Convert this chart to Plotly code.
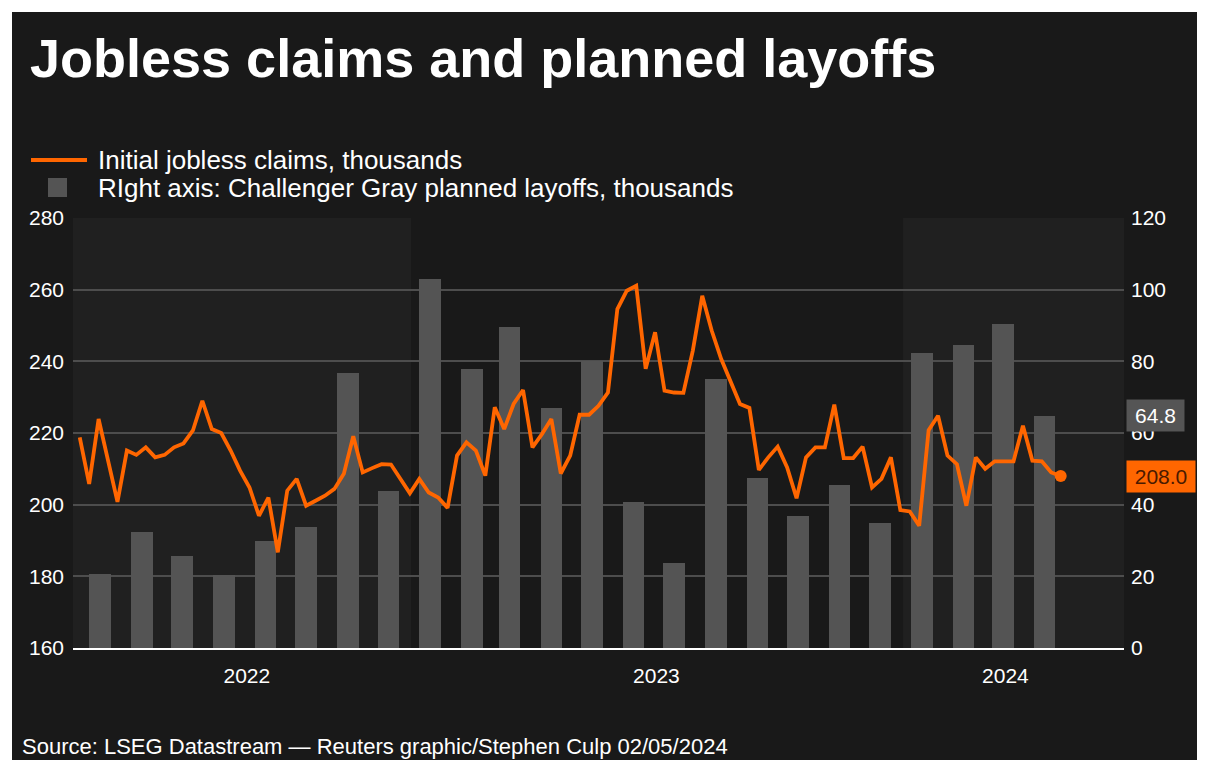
import plotly.graph_objects as go
import pandas as pd

# ---------------- data ----------------
claims_start = "2022-04-30"          # first week-ending date (weekly series)
claims = [218.8, 205.8, 223.9, 212.4, 200.8, 215.1, 213.9, 216.0, 213.2, 213.9,
          216.0, 217.1, 220.7, 229.0, 221.1, 220.0, 215.1, 209.5, 204.8, 196.9,
          202.0, 186.7, 203.9, 207.2, 199.7, 201.1, 202.5, 204.4, 208.6, 219.1,
          209.0, 210.2, 211.3, 211.2, 207.2, 203.2, 207.2, 203.4, 202.0, 199.1,
          213.7, 217.4, 215.1, 208.1, 227.2, 221.1, 228.1, 232.0, 216.0, 219.7,
          223.9, 208.7, 213.7, 225.1, 225.1, 227.6, 231.3, 254.6, 259.7, 261.1,
          237.9, 248.1, 231.8, 231.3, 231.2, 243.0, 258.3, 248.6, 240.7, 234.6,
          228.1, 227.0, 209.7, 213.2, 216.2, 210.4, 201.8, 213.2, 216.0, 216.0,
          227.9, 213.0, 213.0, 216.2, 204.8, 207.2, 213.2, 198.5, 198.1, 194.1,
          220.8, 224.8, 213.7, 211.3, 199.7, 213.2, 210.0, 212.1, 212.1, 212.1,
          222.0, 212.3, 212.1, 209.0, 208.0]

months = ["2022-05", "2022-06", "2022-07", "2022-08", "2022-09", "2022-10",
          "2022-11", "2022-12", "2023-01", "2023-02", "2023-03", "2023-04",
          "2023-05", "2023-06", "2023-07", "2023-08", "2023-09", "2023-10",
          "2023-11", "2023-12", "2024-01", "2024-02", "2024-03", "2024-04"]
layoffs = [20.7, 32.5, 25.8, 20.5, 30.0, 33.8, 76.8, 43.7, 102.9, 77.8, 89.7, 67.0,
           80.1, 40.7, 23.7, 75.2, 47.5, 36.8, 45.5, 34.8, 82.3, 84.6, 90.3, 64.8]

year_labels = ["2022", "2023", "2024"]
left_ticks = [160, 180, 200, 220, 240, 260, 280]
right_ticks = [0, 20, 40, 60, 80, 100, 120]

# ---------------- derived ----------------
claim_dates = pd.date_range(claims_start, periods=len(claims), freq="7D")
month_mid = pd.to_datetime([m + "-15" for m in months])

# ---------------- layout geometry (pixels) ----------------
W, H = 1205, 760
PL, PR, PT, PB = 73, 1124, 218, 648   # plot area edges
x_range = ["2022-04-25", "2024-06-13"]
year_tick_pos = ["2022-09-01", "2023-07-02", "2024-03-17"]

def px(x):
    return (x - PL) / (PR - PL)

def py(y):
    return (PB - y) / (PB - PT)

ORANGE = "#ff6600"
BAR = "#545454"
BG = "#191919"
BAND = "#202020"
FONT = "Liberation Sans, Arial, sans-serif"

fig = go.Figure()

# bars on the primary axis (drawn first, right side)
fig.add_trace(go.Bar(
    x=month_mid, y=layoffs, yaxis="y",
    marker=dict(color=BAR, line=dict(width=0)),
    width=[16 * 86400000] * len(layoffs),
    name="RIght axis: Challenger Gray planned layoffs, thousands",
    showlegend=False,
))
# claims on the overlaying axis (drawn on top, left side)
fig.add_trace(go.Scatter(
    x=claim_dates, y=claims, mode="lines", yaxis="y2",
    line=dict(color=ORANGE, width=3.8),
    name="Initial jobless claims, thousands", showlegend=False,
))
fig.add_trace(go.Scatter(
    x=claim_dates[-1:], y=claims[-1:], mode="markers", yaxis="y2",
    marker=dict(color=ORANGE, size=12), showlegend=False, hoverinfo="skip",
))

shapes = [
    # dark card
    dict(type="rect", xref="paper", yref="paper", layer="below",
         x0=px(12), x1=px(1197), y0=py(H + 5), y1=py(12),
         fillcolor=BG, line=dict(width=0)),
    # year bands
    dict(type="rect", xref="x", yref="paper", layer="below",
         x0=x_range[0], x1="2023-01-01", y0=0, y1=1,
         fillcolor=BAND, line=dict(width=0)),
    dict(type="rect", xref="x", yref="paper", layer="below",
         x0="2024-01-01", x1=x_range[1], y0=0, y1=1,
         fillcolor=BAND, line=dict(width=0)),
    # legend symbols
    dict(type="line", xref="paper", yref="paper",
         x0=px(31), x1=px(87), y0=py(160), y1=py(160),
         line=dict(color=ORANGE, width=4)),
    dict(type="rect", xref="paper", yref="paper",
         x0=px(48), x1=px(67), y0=py(197), y1=py(178),
         fillcolor=BAR, line=dict(width=0)),
]

annotations = [
    dict(xref="paper", yref="paper", x=px(96), y=py(160), xanchor="left", yanchor="middle",
         text="Initial jobless claims, thousands", showarrow=False,
         font=dict(family=FONT, size=26, color="white")),
    dict(xref="paper", yref="paper", x=px(96), y=py(188), xanchor="left", yanchor="middle",
         text="RIght axis: Challenger Gray planned layoffs, thousands", showarrow=False,
         font=dict(family=FONT, size=26, color="white")),
    dict(xref="paper", yref="paper", x=px(20), y=py(746), xanchor="left", yanchor="middle",
         text="Source: LSEG Datastream \u2014 Reuters graphic/Stephen Culp 02/05/2024",
         showarrow=False, font=dict(family=FONT, size=22, color="white")),
    dict(xref="paper", yref="y", x=px(1126), y=layoffs[-1], xanchor="left", yanchor="middle",
         text=f"{layoffs[-1]:.1f}", showarrow=False, bgcolor="#555555", borderpad=4,
         width=49, align="center",
         font=dict(family=FONT, size=21, color="white")),
    dict(xref="paper", yref="y2", x=px(1126), y=claims[-1], xanchor="left", yanchor="middle",
         text=f"{claims[-1]:.1f}", showarrow=False, bgcolor=ORANGE, borderpad=4,
         width=60, align="center",
         font=dict(family=FONT, size=21, color="#4a1a00")),
]

fig.update_layout(
    width=W, height=H,
    margin=dict(l=PL, r=W - PR, t=PT, b=H - PB, pad=0),
    paper_bgcolor="white", plot_bgcolor="rgba(0,0,0,0)",
    font=dict(family=FONT, color="white"),
    title=dict(text="<b>Jobless claims and planned layoffs</b>",
               xref="container", yref="container", x=30 / W, y=1 - 58 / H,
               xanchor="left", yanchor="middle",
               font=dict(family=FONT, size=54, color="white")),
    bargap=0,
    shapes=shapes, annotations=annotations,
    xaxis=dict(type="date", range=x_range, tickvals=year_tick_pos, ticktext=year_labels,
               showgrid=False, zeroline=False, showline=True, linecolor="white",
               linewidth=2, ticks="", layer="below traces",
               tickfont=dict(family=FONT, size=21, color="white"), ticklabelstandoff=8),
    # primary axis: layoffs, right side, carries the gridlines
    yaxis=dict(range=[0, 120], tickvals=right_ticks, side="right",
               showgrid=True, gridcolor="#4d4d4d", gridwidth=2,
               zeroline=False, showline=False, ticks="",
               tickfont=dict(family=FONT, size=21, color="white"), ticklabelstandoff=6),
    # overlaying axis: claims, left side
    yaxis2=dict(range=[160, 280], tickvals=left_ticks, overlaying="y", side="left",
                showgrid=False, zeroline=False, showline=False, ticks="",
                tickfont=dict(family=FONT, size=21, color="white"), ticklabelstandoff=8),
    showlegend=False,
    hovermode=False,
)

fig.write_html("out.html")
